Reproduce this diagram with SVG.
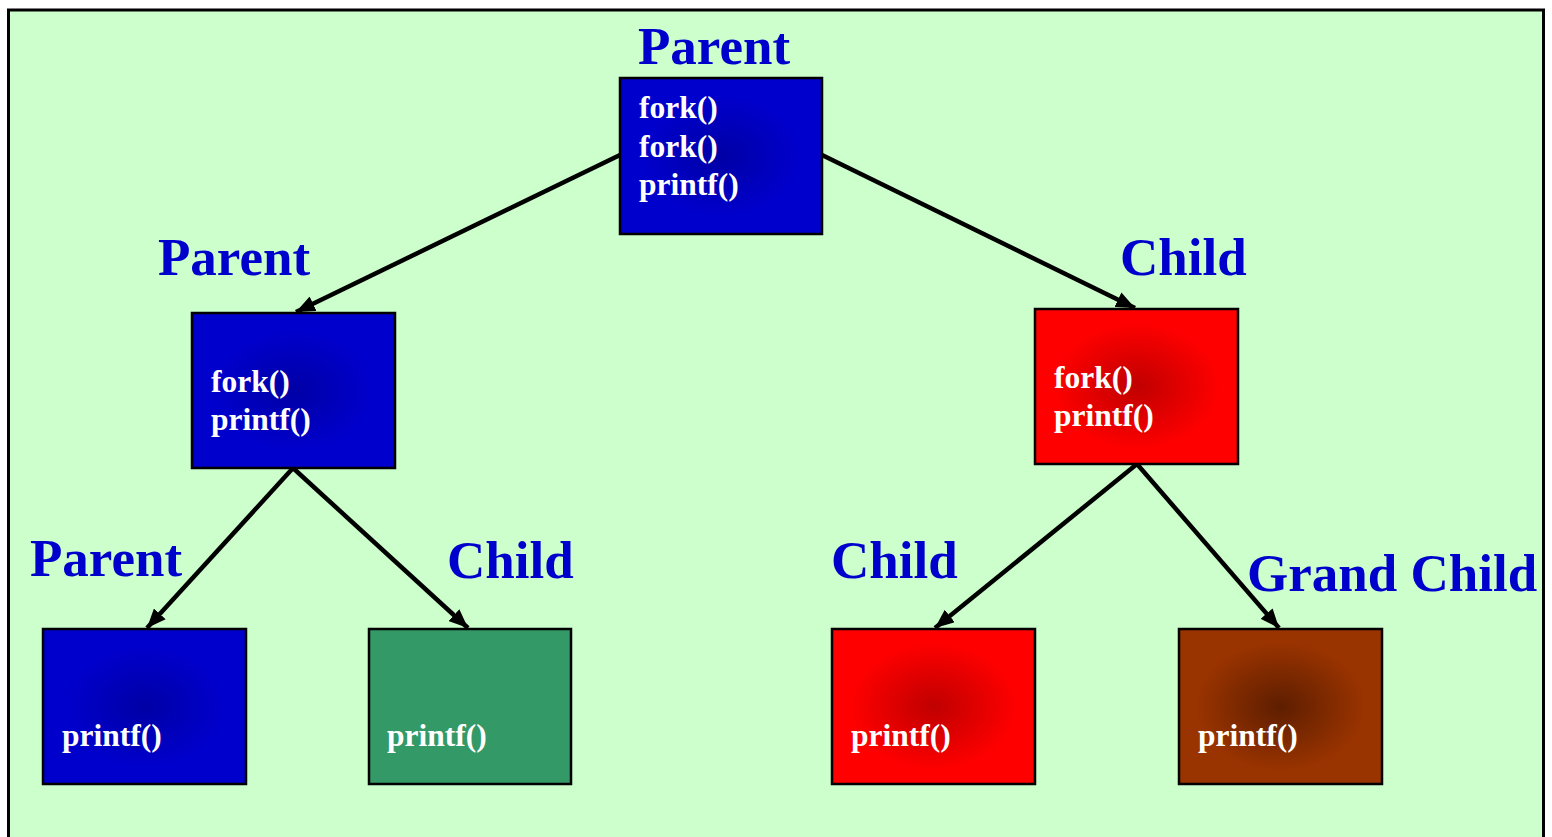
<svg xmlns="http://www.w3.org/2000/svg" width="1552" height="837" viewBox="0 0 1552 837">
<defs>
<radialGradient id="gBlue" cx="0.5" cy="0.5" r="0.55">
<stop offset="0" stop-color="#0000A6"/>
<stop offset="0.7" stop-color="#0000CC"/>
<stop offset="1" stop-color="#0000CC"/>
</radialGradient>
<radialGradient id="gRed" cx="0.5" cy="0.5" r="0.55">
<stop offset="0" stop-color="#C00000"/>
<stop offset="0.75" stop-color="#FF0000"/>
<stop offset="1" stop-color="#FF0000"/>
</radialGradient>
<radialGradient id="gBrown" cx="0.5" cy="0.5" r="0.55">
<stop offset="0" stop-color="#5E1E00"/>
<stop offset="0.75" stop-color="#993300"/>
<stop offset="1" stop-color="#993300"/>
</radialGradient>
<marker id="arr" markerUnits="userSpaceOnUse" markerWidth="20" markerHeight="16" refX="19" refY="8" orient="auto">
<path d="M0,0 L19,8 L0,16 z" fill="#000"/>
</marker>
<style>
.box{stroke:#000;stroke-width:2.5}
.code{font-family:"Liberation Serif","Times New Roman",serif;font-weight:bold;font-size:31.5px;fill:#fff}
.lbl{font-family:"Liberation Serif","Times New Roman",serif;font-weight:bold;font-size:53px;fill:#0000CC}
.con{stroke:#000;stroke-width:4.5;fill:none;marker-end:url(#arr)}
</style>
</defs>
<rect x="8.5" y="10" width="1535" height="840" fill="#CCFFCC" stroke="#000" stroke-width="3"/>
<g id="connectors">
<line class="con" x1="620" y1="155" x2="296" y2="312"/>
<line class="con" x1="822" y1="155" x2="1135" y2="308"/>
<line class="con" x1="293" y1="468" x2="147" y2="628"/>
<line class="con" x1="293" y1="468" x2="468" y2="628"/>
<line class="con" x1="1137" y1="464" x2="935" y2="628"/>
<line class="con" x1="1137" y1="464" x2="1279" y2="628"/>
</g>
<g id="root">
<text class="lbl" x="638" y="64">Parent</text>
<rect class="box" x="620" y="78" width="202" height="156" fill="url(#gBlue)"/>
<text class="code" x="639" y="118">fork()</text>
<text class="code" x="639" y="157">fork()</text>
<text class="code" x="639" y="195">printf()</text>
</g>
<g id="left-parent">
<text class="lbl" x="158" y="275">Parent</text>
<rect class="box" x="192" y="313" width="203" height="155" fill="url(#gBlue)"/>
<text class="code" x="211" y="392">fork()</text>
<text class="code" x="211" y="430">printf()</text>
</g>
<g id="right-child">
<text class="lbl" x="1120" y="275">Child</text>
<rect class="box" x="1035" y="309" width="203" height="155" fill="url(#gRed)"/>
<text class="code" x="1054" y="388">fork()</text>
<text class="code" x="1054" y="426">printf()</text>
</g>
<g id="ll-parent">
<text class="lbl" x="30" y="576">Parent</text>
<rect class="box" x="43" y="629" width="203" height="155" fill="url(#gBlue)"/>
<text class="code" x="62" y="746">printf()</text>
</g>
<g id="lr-child">
<text class="lbl" x="447" y="578">Child</text>
<rect class="box" x="369" y="629" width="202" height="155" fill="#339966"/>
<text class="code" x="387" y="746">printf()</text>
</g>
<g id="rl-child">
<text class="lbl" x="831" y="578">Child</text>
<rect class="box" x="832" y="629" width="203" height="155" fill="url(#gRed)"/>
<text class="code" x="851" y="746">printf()</text>
</g>
<g id="rr-grandchild">
<text class="lbl" x="1247" y="591">Grand Child</text>
<rect class="box" x="1179" y="629" width="203" height="155" fill="url(#gBrown)"/>
<text class="code" x="1198" y="746">printf()</text>
</g>
</svg>
